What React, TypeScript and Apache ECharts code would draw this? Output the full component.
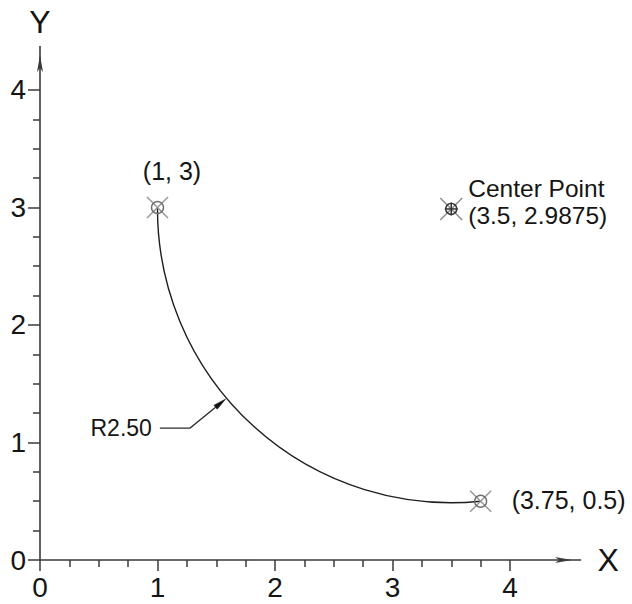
import React, { useEffect, useRef } from "react";
import * as echarts from "echarts";

// ---- data ----
const majorTicks = [0, 1, 2, 3, 4];
const minorTicks = [0.25, 0.5, 0.75, 1.25, 1.5, 1.75, 2.25, 2.5, 2.75, 3.25, 3.5, 3.75];
const axisNames = ["X", "Y"];
const xMax = 4.6;
const yMax = 4.37;

const arcStart = [1, 3];
const arcEnd = [3.75, 0.5];
const arcCenter = [3.5, 2.9875];
const arcRadius = 2.5;

const endPoints = [arcStart, arcEnd];
const endPointLabels = ["(1, 3)", "(3.75, 0.5)"];
const centerLabels = ["Center Point", "(3.5, 2.9875)"];

const radiusLabel = "R2.50";
const leaderTip = [1.58, 1.37];
const leaderElbow = [1.277, 1.123];
const leaderTail = [1.02, 1.123];

// ---- styles ----
const FONT = "'Liberation Sans', Arial, Helvetica, sans-serif";
const AXIS_COLOR = "#3a3a3a";
const TEXT_COLOR = "#151515";
const END_LABEL_LAYOUT = [
  { dx: 14.5, dy: -36.5, align: "center" },
  { dx: 31, dy: -1, align: "left" },
];
const CENTER_LABEL_LAYOUT = [
  { dx: 17, dy: -20.5 },
  { dx: 17, dy: 7 },
];

function crossMarker(p: number[], ringColor: string, xColor: string, ringR: number, arm: number, plus: boolean) {
  const children: any[] = [
    { type: "line", shape: { x1: p[0] - arm, y1: p[1] - arm, x2: p[0] + arm, y2: p[1] + arm }, style: { stroke: xColor, lineWidth: 1.4 } },
    { type: "line", shape: { x1: p[0] - arm, y1: p[1] + arm, x2: p[0] + arm, y2: p[1] - arm }, style: { stroke: xColor, lineWidth: 1.4 } },
    { type: "circle", shape: { cx: p[0], cy: p[1], r: ringR }, style: { stroke: ringColor, lineWidth: 1.4, fill: "none" } },
  ];
  if (plus) {
    children.push(
      { type: "line", shape: { x1: p[0] - ringR - 1, y1: p[1], x2: p[0] + ringR + 1, y2: p[1] }, style: { stroke: ringColor, lineWidth: 1.5 } },
      { type: "line", shape: { x1: p[0], y1: p[1] - ringR - 1, x2: p[0], y2: p[1] + ringR + 1 }, style: { stroke: ringColor, lineWidth: 1.5 } }
    );
  }
  return children;
}

function buildOption(): any {
  const axisLineStyle = { color: AXIS_COLOR, width: 1.6 };
  const labelStyle = { fontSize: 28, color: TEXT_COLOR, fontFamily: FONT };
  return {
    animation: false,
    grid: { left: 40, top: 46.5, bottom: 44, right: 51.5, containLabel: false },
    xAxis: [
      {
        type: "value",
        min: 0,
        max: xMax,
        position: "bottom",
        name: axisNames[0],
        nameLocation: "end",
        nameGap: 17,
        nameTextStyle: { fontSize: 32, color: TEXT_COLOR, fontFamily: FONT, verticalAlign: "middle" },
        axisLine: {
          show: true,
          onZero: false,
          symbol: ["none", "arrow"],
          symbolSize: [4.5, 17],
          symbolOffset: [0, -8.5],
          lineStyle: axisLineStyle,
        },
        axisTick: { show: true, customValues: majorTicks, length: 11, lineStyle: { color: AXIS_COLOR, width: 1.5 } },
        axisLabel: { show: true, customValues: majorTicks, margin: 13, ...labelStyle },
        splitLine: { show: false },
      },
      {
        type: "value",
        min: 0,
        max: xMax,
        position: "bottom",
        axisLine: { show: false, onZero: false },
        axisTick: { show: true, customValues: minorTicks, length: 7, lineStyle: { color: AXIS_COLOR, width: 1.5 } },
        axisLabel: { show: false },
        splitLine: { show: false },
      },
    ],
    yAxis: [
      {
        type: "value",
        min: 0,
        max: yMax,
        position: "left",
        name: axisNames[1],
        nameLocation: "end",
        nameGap: 9,
        nameTextStyle: { fontSize: 32, color: TEXT_COLOR, fontFamily: FONT },
        axisLine: {
          show: true,
          onZero: false,
          symbol: ["none", "arrow"],
          symbolSize: [4.5, 17],
          symbolOffset: [0, -8.5],
          lineStyle: axisLineStyle,
        },
        axisTick: { show: true, customValues: majorTicks, length: 12, lineStyle: { color: AXIS_COLOR, width: 1.5 } },
        axisLabel: { show: true, customValues: majorTicks, margin: 14, ...labelStyle },
        splitLine: { show: false },
      },
      {
        type: "value",
        min: 0,
        max: yMax,
        position: "left",
        axisLine: { show: false, onZero: false },
        axisTick: { show: true, customValues: minorTicks, length: 7, lineStyle: { color: AXIS_COLOR, width: 1.5 } },
        axisLabel: { show: false },
        splitLine: { show: false },
      },
    ],
    series: [
      {
        type: "custom",
        name: "arc",
        coordinateSystem: "cartesian2d",
        xAxisIndex: 0,
        yAxisIndex: 0,
        silent: true,
        data: [arcCenter],
        renderItem: (_params: any, api: any) => {
          const c = api.coord(arcCenter);
          const s = api.coord(arcStart);
          const e = api.coord(arcEnd);
          const r = api.size([arcRadius, 0])[0];
          const a0 = Math.atan2(e[1] - c[1], e[0] - c[0]);
          let a1 = Math.atan2(s[1] - c[1], s[0] - c[0]);
          if (a1 < a0) a1 += Math.PI * 2;
          return {
            type: "arc",
            shape: { cx: c[0], cy: c[1], r, startAngle: a0, endAngle: a1, clockwise: true },
            style: { stroke: "#1e1e1e", lineWidth: 1.4, fill: "none" },
          };
        },
      },
      {
        type: "custom",
        name: "endpoints",
        coordinateSystem: "cartesian2d",
        xAxisIndex: 0,
        yAxisIndex: 0,
        silent: true,
        data: endPoints,
        renderItem: (params: any, api: any) => {
          const i = params.dataIndex;
          const p = api.coord(endPoints[i]);
          const lay = END_LABEL_LAYOUT[i];
          return {
            type: "group",
            children: [
              ...crossMarker(p, "#6f6f6f", "#959595", 6, 10.5, false),
              {
                type: "text",
                x: p[0] + lay.dx,
                y: p[1] + lay.dy,
                style: {
                  text: endPointLabels[i],
                  fontSize: 25,
                  fontFamily: FONT,
                  fill: TEXT_COLOR,
                  align: lay.align,
                  verticalAlign: "middle",
                },
              },
            ],
          };
        },
      },
      {
        type: "custom",
        name: "center",
        coordinateSystem: "cartesian2d",
        xAxisIndex: 0,
        yAxisIndex: 0,
        silent: true,
        data: [arcCenter],
        renderItem: (_params: any, api: any) => {
          const p = api.coord(arcCenter);
          return {
            type: "group",
            children: [
              ...crossMarker(p, "#333333", "#8a8a8a", 5.5, 11, true),
              ...centerLabels.map((t, k) => ({
                type: "text",
                x: p[0] + CENTER_LABEL_LAYOUT[k].dx,
                y: p[1] + CENTER_LABEL_LAYOUT[k].dy,
                style: {
                  text: t,
                  fontSize: 24.5,
                  fontFamily: FONT,
                  fill: TEXT_COLOR,
                  align: "left",
                  verticalAlign: "middle",
                },
              })),
            ],
          };
        },
      },
      {
        type: "custom",
        name: "leader",
        coordinateSystem: "cartesian2d",
        xAxisIndex: 0,
        yAxisIndex: 0,
        silent: true,
        data: [leaderTip],
        renderItem: (_params: any, api: any) => {
          const tip = api.coord(leaderTip);
          const elbow = api.coord(leaderElbow);
          const tail = api.coord(leaderTail);
          const dx = tip[0] - elbow[0];
          const dy = tip[1] - elbow[1];
          const len = Math.hypot(dx, dy);
          const ux = dx / len;
          const uy = dy / len;
          const bx = tip[0] - ux * 13;
          const by = tip[1] - uy * 13;
          const nx = -uy * 2.6;
          const ny = ux * 2.6;
          return {
            type: "group",
            children: [
              {
                type: "polyline",
                shape: { points: [tail, elbow, [bx, by]] },
                style: { stroke: "#2a2a2a", lineWidth: 1.3, fill: "none" },
              },
              {
                type: "polygon",
                shape: { points: [tip, [bx + nx, by + ny], [bx - nx, by - ny]] },
                style: { fill: "#111", stroke: "#111", lineWidth: 0.5 },
              },
              {
                type: "text",
                x: tail[0] - 8,
                y: tail[1],
                style: {
                  text: radiusLabel,
                  fontSize: 23,
                  fontFamily: FONT,
                  fill: TEXT_COLOR,
                  align: "right",
                  verticalAlign: "middle",
                },
              },
            ],
          };
        },
      },
    ],
  };
}

export default function App() {
  const ref = useRef<HTMLDivElement>(null);
  useEffect(() => {
    document.body.style.margin = "0";
    const chart = echarts.init(ref.current as HTMLDivElement, null, { renderer: "svg" });
    chart.setOption(buildOption());
    return () => {
      chart.dispose();
    };
  }, []);
  return <div ref={ref} style={{ width: 632, height: 604, background: "#ffffff" }} />;
}
